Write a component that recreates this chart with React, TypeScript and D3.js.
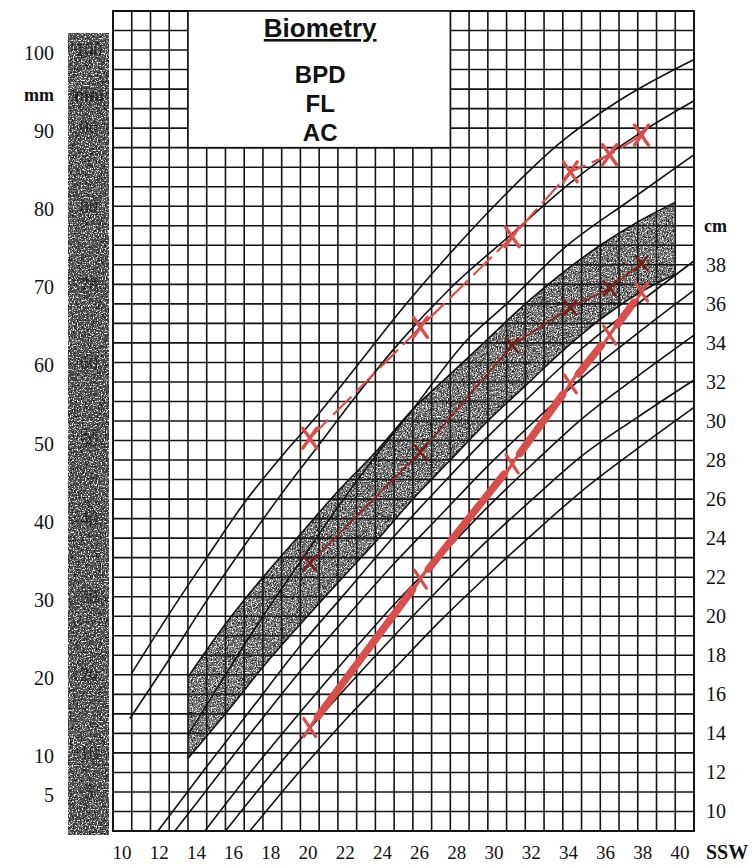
import React, { useRef, useEffect } from "react";
import * as d3 from "d3";

// axis labels
const weekLabels = [10, 12, 14, 16, 18, 20, 22, 24, 26, 28, 30, 32, 34, 36, 38, 40];
const mmLabels = [100, 90, 80, 70, 60, 50, 40, 30, 20, 10, 5];
const cmLabels = [38, 36, 34, 32, 30, 28, 26, 24, 22, 20, 18, 16, 14, 12, 10];
const boxLines = ["BPD", "FL", "AC"];

// BPD reference curves (week, mm)
const bpdHigh = [[11, 20.2], [13, 27.8], [15, 35], [17, 42], [19, 48], [21, 53.5], [23, 59.5], [25.3, 66.5], [28, 74], [30.65, 80.8], [33.85, 88.1], [37.05, 93.6], [41, 98.8]];
const bpdMid = [[10.9, 14.4], [13, 22], [15, 29.5], [17, 36.5], [19, 43.2], [21, 49.5], [23, 55.8], [25.3, 62.6], [28, 69.5], [31.3, 76.5], [34.4, 83], [38.2, 89.5], [41, 93.5]];
const bpdLow = [[14, 12.3], [16, 20], [18, 27.5], [20, 34.5], [22, 41.5], [24, 48], [26, 54], [28.9, 62.9], [31, 67.5], [34, 74.5], [37.6, 80.8], [41, 86.6]];

// FL normal band (week, mm)
const flWeeks = [14, 16, 18, 20, 22, 24, 26, 28, 30, 32, 34, 36, 38, 40];
const flUpper = [19.7, 26.5, 32.5, 38, 43.5, 48.5, 54, 58.5, 63, 67.5, 71.5, 75, 78, 80.5];
const flLower = [9.3, 15, 21, 26.5, 31.8, 37, 42.5, 47.5, 52.5, 57, 61.5, 65.5, 68.8, 71.3];

// AC reference curves (week, cm)
const ac1 = [[12.4, 9], [15, 12.3], [17.5, 15.4], [20, 18.5], [22.5, 21.3], [25, 24.1], [27.5, 26.7], [30, 29.2], [32.5, 31.5], [35, 33.7], [38, 36], [41, 38.2]];
const ac2 = [[13.3, 9], [15, 11.1], [17.5, 14.2], [20, 17.2], [22.5, 20], [25, 22.7], [27.5, 25.2], [30, 27.7], [32.5, 30], [35, 32.2], [38, 34.5], [41, 36.7]];
const ac3 = [[14.9, 9], [17.5, 12.2], [20, 15.1], [22.5, 17.9], [25, 20.6], [27.5, 23.1], [30, 25.6], [32.5, 27.9], [35, 30.1], [38, 32.3], [41, 34.4]];
const ac4 = [[16, 9], [18, 11.4], [20, 13.7], [22.5, 16.4], [25, 19], [27.5, 21.5], [30, 23.9], [32.5, 26.1], [35, 28.2], [38, 30.2], [41, 32.1]];
const ac5 = [[17.3, 9], [20, 12.1], [22.5, 14.8], [25, 17.3], [27.5, 19.8], [30, 22.1], [32.5, 24.3], [35, 26.4], [38, 28.6], [41, 30.7]];

// patient measurements
const examWeeks = [20.5, 26.4, 31.3, 34.4, 36.5, 38.2];
const bpdValues = [50.3, 64.5, 76.1, 84.4, 86.6, 89.1];
const flValues = [34.3, 48.5, 62.2, 67, 69.5, 72.7];
const acValues = [14.3, 21.9, 27.8, 31.9, 34.4, 36.6];

const App = () => {
  const ref = useRef<SVGSVGElement>(null);

  useEffect(() => {
    const svg = d3.select(ref.current);
    svg.selectAll("*").remove();
    const W = 752;
    const H = 865;
    svg.attr("width", W).attr("height", H);

    const x = d3.scaleLinear().domain([10, 41]).range([113, 694]);
    const y = d3.scaleLinear().domain([0, 105]).range([831, 11]);
    const yCm = d3.scaleLinear().domain([9, 51]).range([831, 11]);
    const xLabel = d3.scaleLinear().domain([10, 40]).range([122, 680]);

    svg.append("rect").attr("width", W).attr("height", H).attr("fill", "#fff");

    const defs = svg.append("defs");
    const grain = (id: string, seed: number, freq: number, dark: number[], light: number[]) => {
      const f = defs
        .append("filter")
        .attr("id", id)
        .attr("x", 0)
        .attr("y", 0)
        .attr("width", 1)
        .attr("height", 1)
        .attr("color-interpolation-filters", "sRGB");
      f.append("feTurbulence")
        .attr("type", "fractalNoise")
        .attr("baseFrequency", freq)
        .attr("numOctaves", 2)
        .attr("seed", seed)
        .attr("result", "t");
      f.append("feColorMatrix")
        .attr("in", "t")
        .attr("type", "matrix")
        .attr("values", `0 0 0 0 0  0 0 0 0 0  0 0 0 0 0  ${dark[0]} 0 0 0 ${dark[1]}`)
        .attr("result", "d");
      f.append("feColorMatrix")
        .attr("in", "t")
        .attr("type", "matrix")
        .attr("values", `0 0 0 0 1  0 0 0 0 1  0 0 0 0 1  0 ${light[0]} 0 0 ${light[1]}`)
        .attr("result", "l");
      f.append("feComposite").attr("in", "d").attr("in2", "SourceGraphic").attr("operator", "in").attr("result", "dc");
      f.append("feComposite").attr("in", "l").attr("in2", "SourceGraphic").attr("operator", "in").attr("result", "lc");
      const m = f.append("feMerge");
      m.append("feMergeNode").attr("in", "SourceGraphic");
      m.append("feMergeNode").attr("in", "dc");
      m.append("feMergeNode").attr("in", "lc");
    };
    grain("stripNoise", 4, 0.75, [4, -2.0], [-5, 2.4]);
    grain("bandNoise", 9, 0.8, [4, -2.0], [-5, 2.5]);

    // shaded strip on the left
    svg
      .append("rect")
      .attr("x", 68)
      .attr("y", 33)
      .attr("width", 41)
      .attr("height", 802)
      .attr("fill", "#505050")
      .attr("filter", "url(#stripNoise)");

    // FL band
    const bandData = flWeeks.map((w, i) => ({ w, lo: flLower[i], hi: flUpper[i] }));
    const area = d3
      .area<{ w: number; lo: number; hi: number }>()
      .x((d) => x(d.w))
      .y0((d) => y(d.lo))
      .y1((d) => y(d.hi))
      .curve(d3.curveMonotoneX);
    svg.append("path").attr("d", area(bandData)).attr("fill", "#727272").attr("filter", "url(#bandNoise)");

    // grid
    const grid = svg.append("g").attr("stroke", "#141414").attr("stroke-width", 1.6);
    d3.range(10, 42).forEach((w) => {
      grid.append("line").attr("x1", x(w)).attr("x2", x(w)).attr("y1", y(0)).attr("y2", y(105));
    });
    d3.range(0, 105.1, 2.5).forEach((v) => {
      grid.append("line").attr("x1", x(10)).attr("x2", x(41)).attr("y1", y(v)).attr("y2", y(v));
    });
    svg
      .append("rect")
      .attr("x", x(10))
      .attr("y", y(105))
      .attr("width", x(41) - x(10))
      .attr("height", y(0) - y(105))
      .attr("fill", "none")
      .attr("stroke", "#141414")
      .attr("stroke-width", 2);

    // title box
    svg
      .append("rect")
      .attr("x", x(14))
      .attr("y", y(105))
      .attr("width", x(28) - x(14))
      .attr("height", y(87.5) - y(105))
      .attr("fill", "#fff")
      .attr("stroke", "#141414")
      .attr("stroke-width", 1.6);
    const boxCx = (x(14) + x(28)) / 2 + 1;
    svg
      .append("text")
      .attr("x", boxCx)
      .attr("y", 37)
      .attr("text-anchor", "middle")
      .style("font-family", "'Liberation Sans', Arial, sans-serif")
      .style("font-weight", "bold")
      .style("font-size", "26px")
      .style("text-decoration", "underline")
      .attr("fill", "#111")
      .text("Biometry");
    boxLines.forEach((t, i) => {
      svg
        .append("text")
        .attr("x", boxCx)
        .attr("y", 83 + i * 29)
        .attr("text-anchor", "middle")
        .style("font-family", "'Liberation Sans', Arial, sans-serif")
        .style("font-weight", "bold")
        .style("font-size", "24px")
        .attr("fill", "#111")
        .text(t);
    });

    // reference curves
    const lineMm = d3
      .line<number[]>()
      .x((d) => x(d[0]))
      .y((d) => y(d[1]))
      .curve(d3.curveMonotoneX);
    const lineCm = d3
      .line<number[]>()
      .x((d) => x(d[0]))
      .y((d) => yCm(d[1]))
      .curve(d3.curveMonotoneX);
    const curves = svg.append("g").attr("fill", "none").attr("stroke", "#111").attr("stroke-width", 1.6);
    [bpdHigh, bpdMid, bpdLow].forEach((c) => curves.append("path").attr("d", lineMm(c)));
    curves.append("path").attr("d", lineMm(flWeeks.map((w, i) => [w, flUpper[i]])));
    curves.append("path").attr("d", lineMm(flWeeks.map((w, i) => [w, flLower[i]])));
    [ac1, ac2, ac3, ac4, ac5].forEach((c) => curves.append("path").attr("d", lineCm(c)));

    // measurements
    const red = "#d84e4a";
    const drawCross = (cx: number, cy: number, sx: number, sy: number, color: string, sw: number) => {
      svg
        .append("path")
        .attr("d", `M${cx - sx},${cy - sy}L${cx + sx},${cy + sy}M${cx + sx},${cy - sy}L${cx - sx},${cy + sy}`)
        .attr("stroke", color)
        .attr("stroke-width", sw)
        .attr("stroke-linecap", "round")
        .attr("fill", "none");
    };

    const bpdPts = examWeeks.map((w, i) => [w, bpdValues[i]]);
    svg
      .append("path")
      .attr("d", d3.line<number[]>().x((d) => x(d[0])).y((d) => y(d[1]))(bpdPts))
      .attr("fill", "none")
      .attr("stroke", red)
      .attr("stroke-width", 2.2)
      .attr("stroke-dasharray", "26 7");
    bpdPts.forEach((p) => drawCross(x(p[0]), y(p[1]), 7, 10, red, 3.4));

    const flPts = examWeeks.map((w, i) => [w, flValues[i]]);
    svg
      .append("path")
      .attr("d", d3.line<number[]>().x((d) => x(d[0])).y((d) => y(d[1]))(flPts))
      .attr("fill", "none")
      .attr("stroke", "#8e2420")
      .attr("stroke-width", 1.8);
    flPts.forEach((p) => drawCross(x(p[0]), y(p[1]), 6, 7, "#7a1c18", 2.6));

    const acPx = examWeeks.map((w, i) => [x(w), yCm(acValues[i])]);
    acPx.slice(1).forEach((p, i) => {
      const a = acPx[i];
      const dx = p[0] - a[0];
      const dy = p[1] - a[1];
      const len = Math.hypot(dx, dy);
      const ux = dx / len;
      const uy = dy / len;
      svg
        .append("line")
        .attr("x1", a[0] + ux * 13)
        .attr("y1", a[1] + uy * 13)
        .attr("x2", p[0] - ux * 13)
        .attr("y2", p[1] - uy * 13)
        .attr("stroke", red)
        .attr("stroke-width", 7.5)
        .attr("stroke-linecap", "round");
    });
    acPx.forEach((p) => drawCross(p[0], p[1], 6, 9, red, 3.2));

    // labels
    const serif = "'Liberation Serif', 'Times New Roman', serif";
    const strip = svg.append("g").style("font-family", serif).style("font-size", "18px").attr("fill", "#151515").attr("opacity", 0.7);
    mmLabels.forEach((v) => {
      strip.append("text").attr("x", 89).attr("y", y(v)).attr("dy", "0.35em").attr("text-anchor", "middle").text(v);
    });
    strip.append("text").attr("x", 89).attr("y", y(94.3)).attr("dy", "0.35em").attr("text-anchor", "middle").style("font-weight", "bold").text("mm");

    const left = svg.append("g").style("font-family", serif).style("font-size", "20px").attr("fill", "#111");
    mmLabels.forEach((v) => {
      left.append("text").attr("x", 54).attr("y", y(v) + 3).attr("dy", "0.35em").attr("text-anchor", "end").text(v);
    });
    left
      .append("text")
      .attr("x", 54)
      .attr("y", y(94.3))
      .attr("dy", "0.35em")
      .attr("text-anchor", "end")
      .style("font-weight", "bold")
      .style("font-size", "18px")
      .text("mm");

    const right = svg.append("g").style("font-family", serif).style("font-size", "20px").attr("fill", "#111");
    cmLabels.forEach((v) => {
      right.append("text").attr("x", 706).attr("y", yCm(v)).attr("dy", "0.35em").text(v);
    });
    right.append("text").attr("x", 704).attr("y", yCm(40)).attr("dy", "0.35em").style("font-weight", "bold").style("font-size", "18px").text("cm");

    const bottom = svg.append("g").style("font-family", serif).style("font-size", "19px").attr("fill", "#111");
    weekLabels.forEach((v) => {
      bottom.append("text").attr("x", xLabel(v)).attr("y", 852).attr("dy", "0.35em").attr("text-anchor", "middle").text(v);
    });
    bottom.append("text").attr("x", 706).attr("y", 852).attr("dy", "0.35em").style("font-weight", "bold").style("font-size", "20px").text("SSW");
  }, []);

  return (
    <div style={{ position: "absolute", left: 0, top: 0 }}>
      <svg ref={ref} />
    </div>
  );
};

export default App;
